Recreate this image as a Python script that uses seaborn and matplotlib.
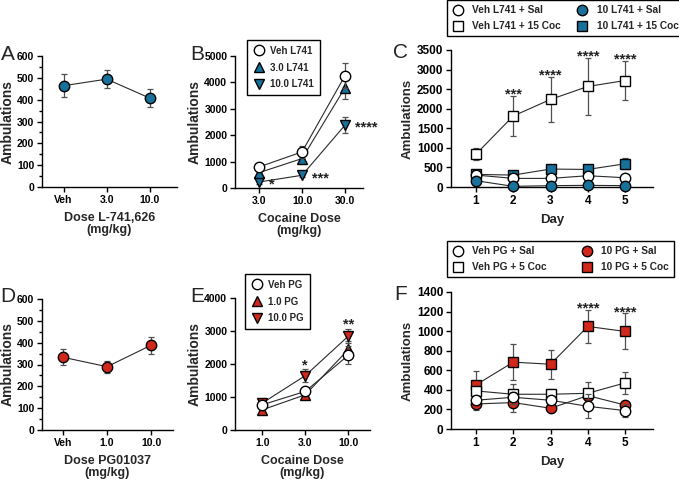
import numpy as np
import pandas as pd
import matplotlib
matplotlib.use('Agg')
import matplotlib.pyplot as plt
import seaborn as sns
from matplotlib.lines import Line2D
from matplotlib.ticker import MultipleLocator

# ---- data ----
BLUE = '#17719a'
RED = '#d1281b'

# A: L-741,626 alone
a_doses = ['Veh', '3.0', '10.0']
a_mean = [464, 494, 407]
a_sem = [53, 40, 40]

# B: L-741,626 pretreatment + cocaine
b_doses = ['3.0', '10.0', '30.0']
b_veh = [797, 1367, 4253]
b_veh_sem = [120, 215, 470]
b_3 = [582, 1114, 3797]
b_3_sem = [120, 150, 440]
b_10 = [228, 481, 2380]
b_10_sem = [60, 60, 300]
b_stars = ['*', '***', '****']

# C: days, L741 x cocaine
days = [1, 2, 3, 4, 5]
c_veh_sal = [305, 220, 220, 288, 237]
c_veh_sal_sem = [50, 40, 40, 50, 40]
c_veh_coc = [839, 1814, 2237, 2568, 2720]
c_veh_coc_sem = [160, 520, 580, 720, 490]
c_10_sal = [161, 17, 34, 42, 34]
c_10_sal_sem = [30, 10, 10, 10, 10]
c_10_coc = [322, 305, 458, 449, 593]
c_10_coc_sem = [60, 50, 80, 60, 140]
c_stars = ['', '***', '****', '****', '****']

# D: PG01037 alone
d_doses = ['Veh', '1.0', '10.0']
d_mean = [333, 290, 388]
d_sem = [36, 27, 40]

# E: PG01037 pretreatment + cocaine
e_doses = ['1.0', '3.0', '10.0']
e_veh = [763, 1170, 2269]
e_veh_sem = [100, 100, 265]
e_1 = [610, 1068, 2441]
e_1_sem = [100, 100, 250]
e_10 = [814, 1648, 2848]
e_10_sem = [100, 190, 224]
e_stars = ['', '*', '**']

# F: days, PG x cocaine
f_veh_sal = [294, 324, 294, 232, 188]
f_veh_sal_sem = [40, 50, 40, 123, 68]
f_veh_coc = [389, 355, 355, 365, 471]
f_veh_coc_sem = [50, 102, 50, 113, 116]
f_10_sal = [256, 270, 212, 341, 245]
f_10_sal_sem = [65, 99, 30, 60, 40]
f_10_coc = [451, 683, 662, 1048, 997]
f_10_coc_sem = [146, 187, 150, 167, 184]
f_stars = ['', '', '', '****', '****']

# ---- style ----
sns.set_style('ticks')
plt.rcParams['font.family'] = ['Liberation Sans', 'DejaVu Sans']
plt.rcParams['font.weight'] = 'bold'
plt.rcParams['axes.labelweight'] = 'bold'
plt.rcParams['axes.linewidth'] = 1.0
plt.rcParams['xtick.major.width'] = 1.0
plt.rcParams['ytick.major.width'] = 1.0
plt.rcParams['ytick.minor.width'] = 1.0
plt.rcParams['xtick.major.size'] = 3.5
plt.rcParams['ytick.major.size'] = 3.5
plt.rcParams['ytick.minor.size'] = 2
plt.rcParams['xtick.color'] = 'black'
plt.rcParams['ytick.color'] = 'black'
plt.rcParams['axes.edgecolor'] = 'black'

W, H = 679, 482
fig = plt.figure(figsize=(W / 100, H / 100), dpi=100)


def px_axes(left, top, right, bottom):
    return fig.add_axes([left / W, 1 - bottom / H, (right - left) / W, (bottom - top) / H])


def draw(ax, x, y, err, marker, face, z=3, ms=7.5):
    ax.errorbar(x, y, yerr=err, fmt='none', ecolor='#505050', elinewidth=0.9,
                capsize=2, capthick=0.9, zorder=z - 0.5, clip_on=False)
    sns.lineplot(x=x, y=y, marker=marker, color='#2a2a2a', linewidth=0.8,
                 markersize=ms, markerfacecolor=face, markeredgecolor='black',
                 markeredgewidth=1.0, ax=ax, zorder=z, clip_on=False, legend=False)


def finish(ax, ymax, ystep, xlabel, minor=None, tick=7.5, xl=9, yl=10):
    sns.despine(ax=ax)
    ax.set_ylim(0, ymax)
    ax.yaxis.set_major_locator(MultipleLocator(ystep))
    if minor:
        ax.yaxis.set_minor_locator(MultipleLocator(minor))
    ax.set_ylabel('Ambulations', fontsize=yl, labelpad=2)
    ax.set_xlabel(xlabel, fontsize=xl, labelpad=5, linespacing=1.05)
    ax.tick_params(labelsize=tick, pad=2)
    for lab in ax.get_xticklabels() + ax.get_yticklabels():
        lab.set_fontweight('bold')


def handle(marker, face):
    return Line2D([], [], marker=marker, linestyle='none', markersize=7.5,
                  markerfacecolor=face, markeredgecolor='black', markeredgewidth=1.0)


def star(ax, x, y, s, dx=0, dy=2, ha='center', va='bottom', size=10.5):
    ax.annotate(s, (x, y), xytext=(dx, dy), textcoords='offset points',
                ha=ha, va=va, fontsize=size, fontweight='bold', color='#222222')


def legend(handles, labels, x, y, **kw):
    leg = fig.legend(handles, labels, loc='upper left', bbox_to_anchor=(x / W, 1 - y / H),
                     frameon=True, fancybox=False, edgecolor='black', framealpha=1,
                     handlelength=1.2, borderaxespad=0, **kw)
    leg.get_frame().set_linewidth(1.0)


# ---- A ----
axA = px_axes(42, 56, 177, 187)
xa = np.arange(len(a_doses))
draw(axA, xa, a_mean, a_sem, 'o', BLUE)
axA.set_xlim(-0.5, 2.63)
axA.set_xticks(xa, a_doses)
finish(axA, 600, 100, 'Dose L-741,626\n(mg/kg)', minor=50)

# ---- B ----
axB = px_axes(235, 56, 363, 188)
xb = np.arange(len(b_doses))
draw(axB, xb, b_veh, b_veh_sem, 'o', 'white', z=5)
draw(axB, xb, b_3, b_3_sem, '^', BLUE, z=4)
draw(axB, xb, b_10, b_10_sem, 'v', BLUE, z=3)
for x, y, s in zip(xb, b_10, b_stars):
    star(axB, x, y, s, dx=7, dy=-7, ha='left', va='bottom')
axB.set_xlim(-0.56, 2.42)
axB.set_xticks(xb, b_doses)
finish(axB, 5000, 1000, 'Cocaine Dose\n(mg/kg)')
legend([handle('o', 'white'), handle('^', BLUE), handle('v', BLUE)],
       ['Veh L741', '3.0 L741', '10.0 L741'], 247, 40,
       fontsize=7, handletextpad=0.6, borderpad=0.6, labelspacing=0.7)

# ---- C ----
axC = px_axes(451, 50, 653, 187)
draw(axC, days, c_veh_coc, c_veh_coc_sem, 's', 'white', z=3)
draw(axC, days, c_10_coc, c_10_coc_sem, 's', BLUE, z=4)
draw(axC, days, c_veh_sal, c_veh_sal_sem, 'o', 'white', z=5)
draw(axC, days, c_10_sal, c_10_sal_sem, 'o', BLUE, z=6)
for x, y, e, s in zip(days, c_veh_coc, c_veh_coc_sem, c_stars):
    if s:
        star(axC, x, y + e, s, dy=-4)
axC.set_xlim(0.33, 5.75)
axC.set_xticks(days)
finish(axC, 3500, 500, 'Day', tick=8.5, xl=9.5, yl=9.5)
legend([handle('o', 'white'), handle('s', 'white'), handle('o', BLUE), handle('s', BLUE)],
       ['Veh L741 + Sal', 'Veh L741 + 15 Coc', '10 L741 + Sal', '10 L741 + 15 Coc'],
       447, 0, ncol=2, fontsize=7.3, handletextpad=0.8, borderpad=0.5,
       labelspacing=0.6, columnspacing=1.5)

# ---- D ----
axD = px_axes(42, 299, 173, 430)
xd = np.arange(len(d_doses))
draw(axD, xd, d_mean, d_sem, 'o', RED)
axD.set_xlim(-0.48, 2.5)
axD.set_xticks(xd, d_doses)
finish(axD, 600, 100, 'Dose PG01037\n(mg/kg)', minor=50)

# ---- E ----
axE = px_axes(235, 298, 370, 430)
xe = np.arange(len(e_doses))
draw(axE, xe, e_veh, e_veh_sem, 'o', 'white', z=5)
draw(axE, xe, e_1, e_1_sem, '^', RED, z=3)
draw(axE, xe, e_10, e_10_sem, 'v', RED, z=4)
for x, y, e, s in zip(xe, e_10, e_10_sem, e_stars):
    if s:
        star(axE, x, y + e, s, dy=-2)
axE.set_xlim(-0.63, 2.5)
axE.set_xticks(xe, e_doses)
finish(axE, 4000, 1000, 'Cocaine Dose\n(mg/kg)')
legend([handle('o', 'white'), handle('^', RED), handle('v', RED)],
       ['Veh PG', '1.0 PG', '10.0 PG'], 245, 274,
       fontsize=7, handletextpad=0.6, borderpad=0.6, labelspacing=0.7)

# ---- F ----
axF = px_axes(451, 292, 653, 429)
draw(axF, days, f_veh_coc, f_veh_coc_sem, 's', 'white', z=5)
draw(axF, days, f_10_coc, f_10_coc_sem, 's', RED, z=3)
draw(axF, days, f_10_sal, f_10_sal_sem, 'o', RED, z=4)
draw(axF, days, f_veh_sal, f_veh_sal_sem, 'o', 'white', z=6)
for x, y, e, s in zip(days, f_10_coc, f_10_coc_sem, f_stars):
    if s:
        star(axF, x, y + e, s, dy=-4)
axF.set_xlim(0.33, 5.75)
axF.set_xticks(days)
finish(axF, 1400, 200, 'Day', tick=8.5, xl=9.5, yl=9.5)
legend([handle('o', 'white'), handle('s', 'white'), handle('o', RED), handle('s', RED)],
       ['Veh PG + Sal', 'Veh PG + 5 Coc', '10 PG + Sal', '10 PG + 5 Coc'],
       447, 241, ncol=2, fontsize=7.3, handletextpad=0.8, borderpad=0.5,
       labelspacing=0.6, columnspacing=3.3)

# panel letters
for s, x, y in [('A', 8, 54), ('B', 197, 54), ('C', 401, 52),
                ('D', 8, 297), ('E', 197, 297), ('F', 401, 294)]:
    fig.text(x / W, 1 - y / H, s, fontsize=15, fontweight='normal',
             ha='center', va='center')

fig.savefig('out.png', dpi=100)
